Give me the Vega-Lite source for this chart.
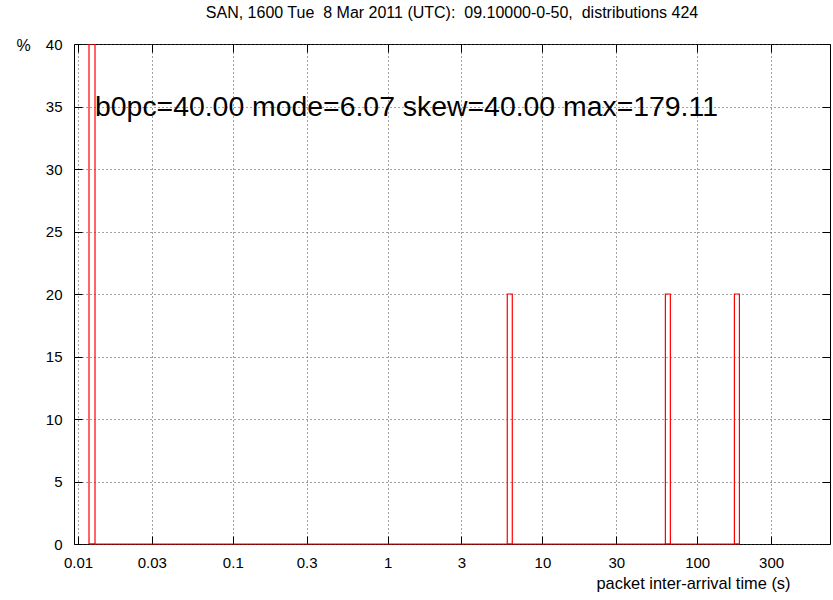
{
  "$schema": "https://vega.github.io/schema/vega-lite/v6.json",
  "autosize": "none",
  "width": 756,
  "height": 500,
  "padding": {"left": 74, "top": 44, "right": 3, "bottom": 56},
  "background": "white",
  "config": {
    "font": "Liberation Sans",
    "view": {"stroke": "black", "strokeWidth": 1},
    "axis": {
      "labelFont": "Liberation Sans",
      "titleFont": "Liberation Sans",
      "labelColor": "black",
      "titleColor": "black",
      "titleFontWeight": "normal",
      "domain": false,
      "tickColor": "black",
      "tickSize": -8,
      "tickWidth": 1,
      "gridColor": "#444",
      "gridDash": [1, 3],
      "gridWidth": 1
    }
  },
  "title": {
    "text": "SAN, 1600 Tue \u00a08 Mar 2011 (UTC): \u00a009.10000-0-50, \u00a0distributions 424",
    "font": "Liberation Sans",
    "fontSize": 16,
    "fontWeight": "normal",
    "color": "black",
    "anchor": "middle",
    "offset": 16
  },
  "datasets": {
    "bars": [
      {"x0": 0.01178, "x1": 0.01288, "pct": 40},
      {"x0": 5.93, "x1": 6.39, "pct": 20},
      {"x0": 62.3, "x1": 67.1, "pct": 20},
      {"x0": 173.9, "x1": 187.4, "pct": 20}
    ],
    "note": [
      {"x": 0.01288, "y": 35, "text": "b0pc=40.00 mode=6.07 skew=40.00 max=179.11"}
    ]
  },
  "resolve": {"axis": {"x": "independent", "y": "independent"}},
  "layer": [
    {
      "data": {"name": "bars"},
      "mark": {"type": "rect", "fill": null, "fillOpacity": 0, "stroke": "#ff0000", "strokeWidth": 1.2, "clip": true},
      "encoding": {
        "x": {
          "field": "x0", "type": "quantitative",
          "scale": {"type": "log", "domain": [0.009423, 721], "nice": false},
          "axis": {
            "values": [0.01, 0.03, 0.1, 0.3, 1, 3, 10, 30, 100, 300],
            "format": "~g",
            "labelFontSize": 15,
            "labelPadding": 19,
            "grid": true,
            "title": "packet inter-arrival time (s)",
            "titleFontSize": 16.4,
            "titleX": 716,
            "titleY": 39,
            "titleAlign": "right",
            "titleBaseline": "middle"
          }
        },
        "x2": {"field": "x1"},
        "y": {
          "field": "pct", "type": "quantitative",
          "scale": {"domain": [0, 40], "nice": false},
          "axis": {
            "values": [0, 5, 10, 15, 20, 25, 30, 35, 40],
            "format": "d",
            "labelFontSize": 15,
            "labelPadding": 20,
            "grid": true,
            "title": "%",
            "titleFontSize": 16,
            "titleAngle": 0,
            "titleX": -51,
            "titleY": 1,
            "titleAlign": "center",
            "titleBaseline": "middle"
          }
        },
        "y2": {"datum": 0}
      }
    },
    {
      "data": {"name": "bars"},
      "mark": {"type": "rule", "color": "#ff0000", "strokeWidth": 1},
      "encoding": {
        "x": {"aggregate": "min", "field": "x0", "type": "quantitative", "axis": null},
        "x2": {"aggregate": "max", "field": "x1"},
        "y": {"datum": 0, "type": "quantitative", "axis": null}
      }
    },
    {
      "data": {"name": "note"},
      "mark": {"type": "text", "align": "left", "baseline": "middle", "fontSize": 28.4, "font": "Liberation Sans", "color": "black"},
      "encoding": {
        "x": {
          "field": "x", "type": "quantitative",
          "axis": {"orient": "top", "values": [0.01, 0.03, 0.1, 0.3, 1, 3, 10, 30, 100, 300], "labels": false, "grid": false, "title": null}
        },
        "y": {
          "field": "y", "type": "quantitative",
          "axis": {"orient": "right", "values": [0, 5, 10, 15, 20, 25, 30, 35, 40], "labels": false, "grid": false, "title": null}
        },
        "text": {"field": "text"}
      }
    }
  ]
}
